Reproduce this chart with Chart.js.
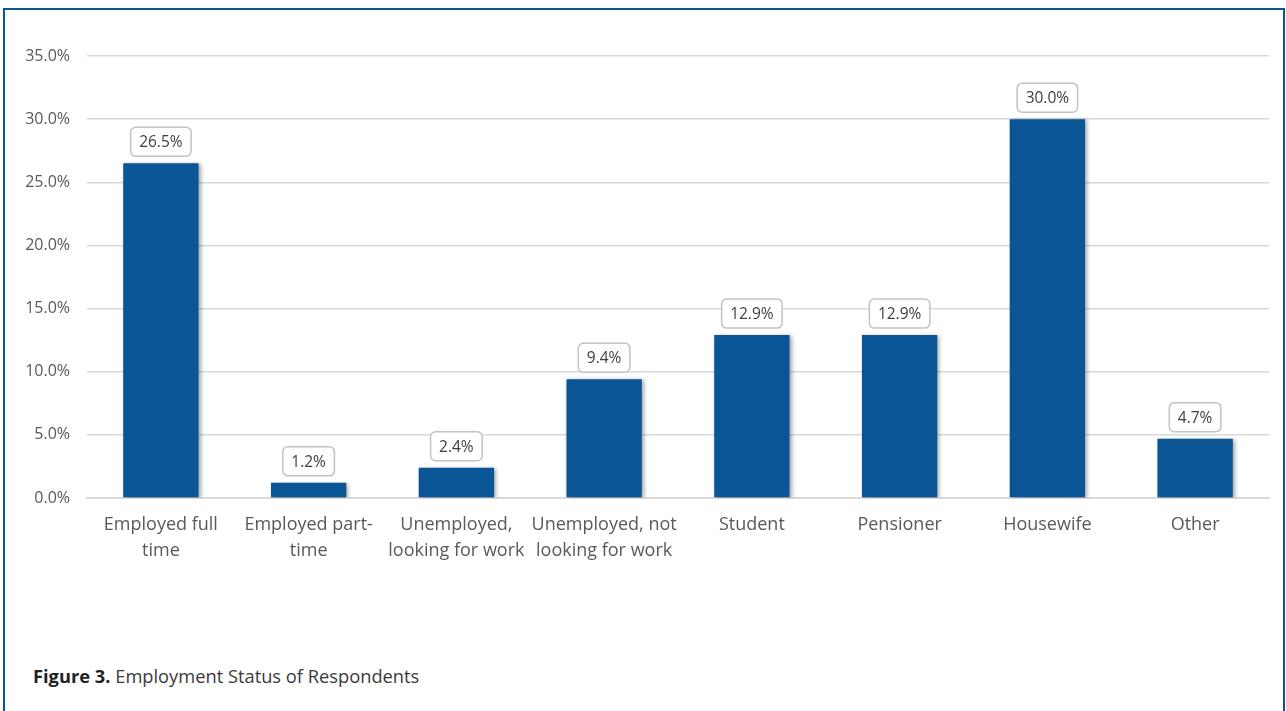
<!DOCTYPE html>
<html>
<head>
<meta charset="utf-8">
<script src="https://cdn.jsdelivr.net/npm/chart.js@4.4.0/dist/chart.umd.min.js"></script>
<style>
  html, body { margin: 0; padding: 0; background: #fff; }
  body { width: 1286px; height: 711px; position: relative; overflow: hidden; font-family: "Open Sans", sans-serif; }
  #marco { position: absolute; left: 3px; top: 8px; width: 1278px; height: 720px; border: 2px solid #0a5596; border-bottom: none; }
  #caja { position: absolute; left: 5px; top: 11px; width: 1278px; height: 567px; }
  #pie { position: absolute; left: 33px; top: 663px; font-size: 18.3px; color: #3a3a3a; }
  #pie b { color: #222; }
</style>
</head>
<body>
<div id="marco"></div>
<div id="caja"><canvas id="grafico"></canvas></div>
<div id="pie"><b>Figure 3.</b> Employment Status of Respondents</div>
<script>
// Datos del gráfico
const categorias = [
  ['Employed full', 'time'],
  ['Employed part-', 'time'],
  ['Unemployed,', 'looking for work'],
  ['Unemployed, not', 'looking for work'],
  'Student',
  'Pensioner',
  'Housewife',
  'Other'
];
const porcentajes = [26.5, 1.2, 2.4, 9.4, 12.9, 12.9, 30.0, 4.7];
const ticksEje = [0, 5, 10, 15, 20, 25, 30, 35];

// Sombra suave detrás de las barras
const sombra = {
  id: 'sombra',
  beforeDatasetsDraw(chart) {
    const ctx = chart.ctx;
    ctx.save();
    ctx.shadowColor = 'rgba(0,0,0,0.35)';
    ctx.shadowBlur = 4;
    ctx.shadowOffsetX = 2;
    ctx.shadowOffsetY = 1;
  },
  afterDatasetsDraw(chart) {
    chart.ctx.restore();
  }
};

// Etiquetas con recuadro sobre cada barra
const etiquetas = {
  id: 'etiquetas',
  afterDatasetsDraw(chart) {
    const ctx = chart.ctx;
    const meta = chart.getDatasetMeta(0);
    ctx.save();
    ctx.font = '15.5px "Open Sans"';
    ctx.textAlign = 'center';
    ctx.textBaseline = 'middle';
    meta.data.forEach((barra, i) => {
      const texto = porcentajes[i].toFixed(1) + '%';
      const ancho = ctx.measureText(texto).width + 17;
      const alto = 29;
      const x = barra.x - ancho / 2;
      const y = barra.y - 7 - alto;
      ctx.beginPath();
      ctx.roundRect(x, y, ancho, alto, 5);
      ctx.fillStyle = '#fff';
      ctx.fill();
      ctx.lineWidth = 1.5;
      ctx.strokeStyle = '#c3c3c3';
      ctx.stroke();
      ctx.fillStyle = '#404040';
      ctx.fillText(texto, barra.x, y + alto / 2 + 1);
    });
    ctx.restore();
  }
};

const ctx = document.getElementById('grafico').getContext('2d');
new Chart(ctx, {
  type: 'bar',
  data: {
    labels: categorias,
    datasets: [{
      data: porcentajes,
      backgroundColor: '#0a5596',
      barPercentage: 0.51,
      categoryPercentage: 1
    }]
  },
  options: {
    responsive: true,
    maintainAspectRatio: false,
    animation: false,
    layout: { padding: { top: 45, right: 14, left: 0, bottom: 0 } },
    plugins: { legend: { display: false }, tooltip: { enabled: false } },
    scales: {
      x: {
        grid: { display: false },
        border: { color: '#d9d9d9', width: 2 },
        ticks: {
          color: '#595959',
          font: { family: 'Open Sans', size: 18, lineHeight: 1.44 },
          padding: 6,
          maxRotation: 0,
          autoSkip: false
        },
        afterFit(scale) { scale.height = 80; }
      },
      y: {
        min: 0,
        max: 35,
        afterBuildTicks(scale) { scale.ticks = ticksEje.map(v => ({ value: v })); },
        grid: { color: '#d9d9d9', lineWidth: 1.5, drawTicks: false },
        border: { display: false },
        ticks: {
          color: '#595959',
          font: { family: 'Open Sans', size: 16 },
          padding: 17,
          callback: v => v.toFixed(1) + '%'
        },
        afterFit(scale) { scale.width = 82; }
      }
    }
  },
  plugins: [sombra, etiquetas]
});
</script>
</body>
</html>
